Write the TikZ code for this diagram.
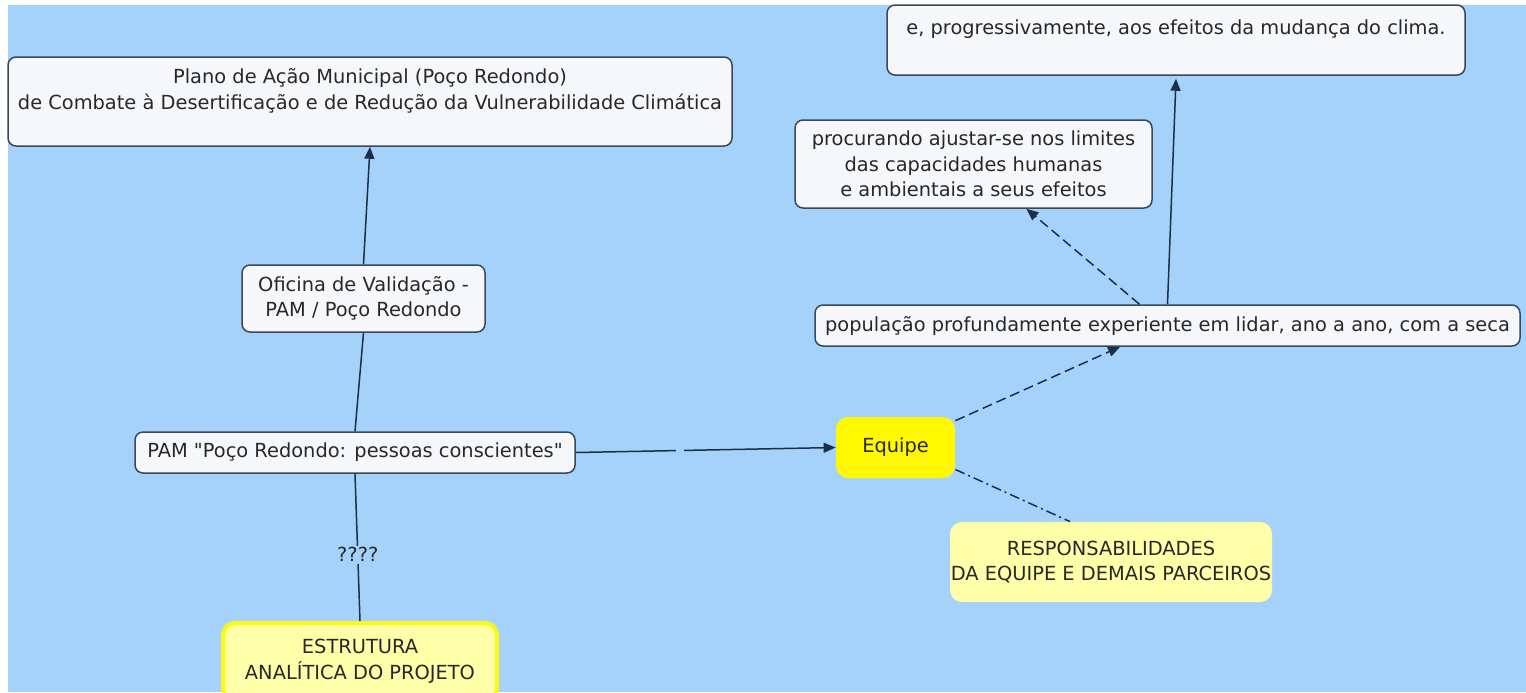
\documentclass[tikz,border=0pt]{standalone}
\usepackage{fontspec}
\setmainfont{DejaVu Sans}[Ligatures=TeXOff]
\usepackage{xcolor}
\usetikzlibrary{arrows.meta}

\definecolor{bgblue}{RGB}{165,210,250}
\definecolor{boxwhite}{RGB}{245,247,250}
\definecolor{rimgray}{RGB}{58,72,88}
\definecolor{linknavy}{RGB}{28,46,72}
\definecolor{txtgray}{RGB}{40,40,40}
\definecolor{equipeyel}{RGB}{255,248,0}
\definecolor{paleyel}{RGB}{255,255,170}
\definecolor{glowyel}{RGB}{250,250,20}

\begin{document}
\begin{tikzpicture}[
  x=0.5pt, y=-0.5pt,
  every node/.style={font=\fontsize{9.7}{12.8}\selectfont, text=txtgray},
  concept/.style={draw=rimgray, fill=boxwhite, line width=0.75pt, rounded corners=4pt,
    align=center, inner sep=0pt},
  keybox/.style={fill=equipeyel, rounded corners=6pt, align=center, inner sep=0pt},
  notebox/.style={fill=paleyel, rounded corners=6pt, align=center, inner sep=0pt},
  glowbox/.style={fill=paleyel, draw=glowyel, line width=2pt, rounded corners=6pt,
    align=center, inner sep=0pt},
  link/.style={draw=linknavy, line width=0.75pt},
  arrow/.style={link, -{Triangle[length=6pt,width=5pt]}},
  dashlink/.style={arrow, dash pattern=on 5pt off 2.5pt},
  dotlink/.style={link, dash pattern=on 5pt off 2pt on 1pt off 2pt}
]
  \clip (0,0) rectangle (1526,692);
  \fill[white] (0,0) rectangle (1526,692);
  \fill[bgblue] (8,5) rectangle (1526,692);

  % concept boxes
  \node[concept, minimum width=362pt, minimum height=44.5pt] (plano) at (370,101.5)
    {Plano de Ação Municipal (Poço Redondo)\\ de Combate à Desertificação e de Redução da Vulnerabilidade Climática\\ \mbox{}};
  \node[concept, minimum width=289pt, minimum height=35pt] (clima) at (1176,40)
    {e, progressivamente, aos efeitos da mudança do clima.\\ \mbox{}};
  \node[concept, minimum width=178.5pt, minimum height=44pt] (procura) at (973.5,164)
    {procurando ajustar-se nos limites\\ das capacidades humanas\\ e ambientais a seus efeitos};
  \node[concept, minimum width=352.5pt, minimum height=20.5pt] (popul) at (1167.5,325.5)
    {população profundamente experiente em lidar, ano a ano, com a seca};
  \node[concept, minimum width=121.5pt, minimum height=33.5pt] (oficina) at (363.5,298.5)
    {Oficina de Validação -\\ PAM / Poço Redondo};
  \node[concept, minimum width=220pt, minimum height=20.5pt] (pam) at (355,452.5)
    {PAM "Poço Redondo: pessoas conscientes"};
  \node[keybox, minimum width=59.5pt, minimum height=30.5pt] (equipe) at (895.5,447.5) {Equipe};
  \node[notebox, minimum width=161pt, minimum height=40pt] (resp) at (1111,562)
    {RESPONSABILIDADES\\ DA EQUIPE E DEMAIS PARCEIROS};
  \node[glowbox, minimum width=137pt, minimum height=38.5pt] (estrut) at (360,661.5)
    {ESTRUTURA\\ ANALÍTICA DO PROJETO};

  % links
  \draw[arrow] (oficina.north) -- (plano.south);
  \draw[link] (pam.north) -- (oficina.south);
  \draw[link] (estrut.north) -- node[pos=0.45, fill=bgblue, inner sep=1pt]{????} (pam.south);
  \draw[arrow] (pam.east) -- node[pos=0.4, fill=bgblue, inner sep=0pt, minimum width=4pt, minimum height=3pt]{} (equipe.west);
  \draw[dashlink] (equipe) -- (popul);
  \draw[dashlink] ([xshift=-14pt]popul.north) -- (procura);
  \draw[arrow] (popul.north) -- ([yshift=-1.5pt]clima.south);
  \draw[dotlink] ([yshift=-11pt]equipe.east) -- ([xshift=-20.5pt]resp.north);
\end{tikzpicture}
\end{document}
